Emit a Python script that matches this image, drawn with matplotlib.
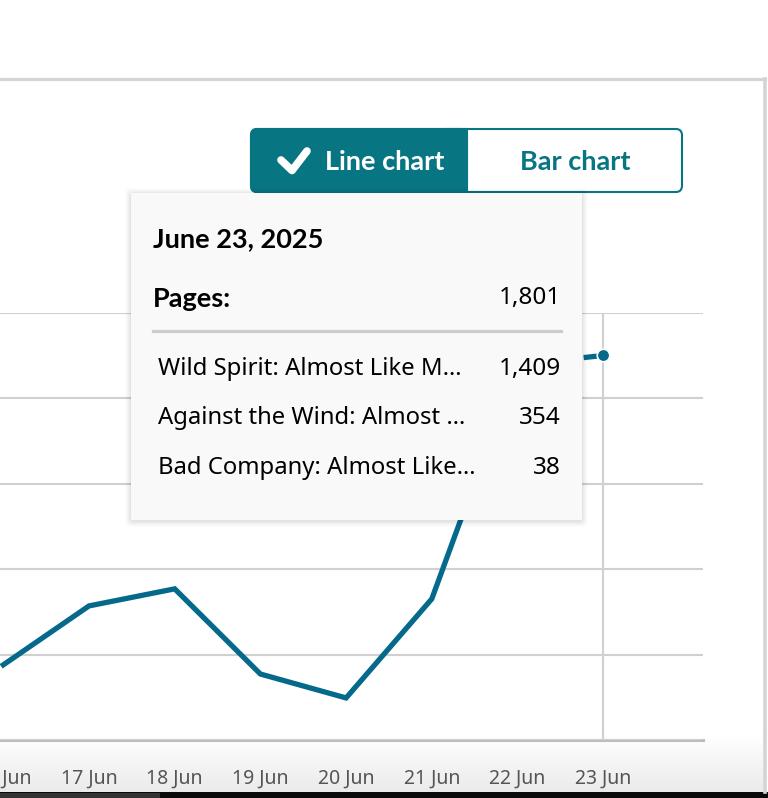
import matplotlib
matplotlib.use("Agg")
import matplotlib.pyplot as plt
import numpy as np
from matplotlib.patches import Rectangle, FancyBboxPatch
from matplotlib.lines import Line2D

# ---- data ----
dates = ["16 Jun", "17 Jun", "18 Jun", "19 Jun", "20 Jun", "21 Jun", "22 Jun", "23 Jun"]
pages = [352, 628, 708, 309, 197, 661, 1758, 1801]
y_ticks = [0, 400, 800, 1200, 1600, 2000]
tooltip_date = "June 23, 2025"
tooltip_total_label = "Pages:"
tooltip_total = "1,801"
book_names = ["Wild Spirit: Almost Like M\u2026", "Against the Wind: Almost \u2026", "Bad Company: Almost Like\u2026"]
book_pages = ["1,409", "354", "38"]
btn_labels = ["Line chart", "Bar chart"]

W, H = 768, 798
DPI = 100
fig = plt.figure(figsize=(W / DPI, H / DPI), dpi=DPI)
fig.patch.set_facecolor("white")

def fx(x):
    return x / W

def fy(y):
    return 1 - y / H

FONT = ["Noto Sans", "DejaVu Sans"]
BFONT = ["Lato", "DejaVu Sans"]
TEAL = "#087582"
LINE = "#05698c"

# background gradient at bottom of panel
gax = fig.add_axes([fx(0), fy(792), fx(763), (792 - 735) / H], zorder=0)
grad = np.linspace(1.0, 0.92, 100).reshape(-1, 1)
gax.imshow(np.dstack([grad, grad, grad]), aspect="auto", extent=[0, 1, 0, 1], origin="upper")
gax.axis("off")

# bottom dark strip
fig.patches.append(Rectangle((0, 0), 1, fy(792), transform=fig.transFigure, fc="#0a0a0a", ec="none", zorder=1))
fig.patches.append(Rectangle((0, 0), fx(160), fy(793), transform=fig.transFigure, fc="#333333", ec="none", zorder=1))

# panel border
fig.lines.append(Line2D([0, fx(765)], [fy(78.5), fy(78.5)], transform=fig.transFigure, color="#d4d4d4", lw=2.3, zorder=2))
fig.lines.append(Line2D([fx(765), fx(765)], [fy(78.5), fy(792)], transform=fig.transFigure, color="#d4d4d4", lw=2.6, zorder=2))

# main chart axes
step = 85.7
x0px = 3.3
left_px, right_px, top_px, bot_px = 0, 703, 313, 740
ax = fig.add_axes([fx(left_px), fy(bot_px), fx(right_px - left_px), (bot_px - top_px) / H], zorder=3)
ax.patch.set_alpha(0)
x = np.arange(len(dates))
ax.set_xlim((left_px - x0px) / step, (right_px - x0px) / step)
ax.set_ylim(y_ticks[0], y_ticks[-1])
ax.set_yticks(y_ticks)
ax.set_xticks(x)
ax.set_xticklabels(dates)
for s in ax.spines.values():
    s.set_visible(False)
ax.grid(axis="y", color="#d0d0d0", lw=1.5, zorder=0)
ax.axhline(0, color="#bdbdbd", lw=2.2, zorder=1, clip_on=False)
ax.tick_params(axis="y", left=False, labelleft=False)
ax.tick_params(axis="x", bottom=False, pad=17, labelsize=14, labelcolor="#555555")
for t in ax.get_xticklabels():
    t.set_family(FONT)

# hover vertical line
ax.axvline(x[-1], ymin=0, ymax=1, color="#d0d0d0", lw=1.5, zorder=1)

ax.plot(x[:-1], pages[:-1], color=LINE, lw=3.8, solid_joinstyle="miter", zorder=4, clip_on=False)
ax.plot(x[-2:], pages[-2:], color=LINE, lw=3.8, linestyle=(0, (2.6, 1.6)), zorder=4)
ax.plot([x[-1]], [pages[-1]], "o", color=LINE, ms=9, mec="white", mew=1.2, zorder=5)

# ---- buttons ----
bx0, bx1, bmid, by0, by1 = 251, 682, 467, 129, 192
outer = FancyBboxPatch((fx(bx0), fy(by1)), fx(bx1 - bx0), (by1 - by0) / H,
                       boxstyle="round,pad=0,rounding_size=0.008", transform=fig.transFigure,
                       fc="white", ec=TEAL, lw=1.5, zorder=6)
fig.patches.append(outer)
lb = FancyBboxPatch((fx(bx0), fy(by1)), fx(bmid - bx0), (by1 - by0) / H,
                    boxstyle="round,pad=0,rounding_size=0.008", transform=fig.transFigure,
                    fc=TEAL, ec=TEAL, lw=1.5, zorder=7)
fig.patches.append(lb)
fig.patches.append(Rectangle((fx(bmid - 20), fy(by1)), fx(20), (by1 - by0) / H, transform=fig.transFigure,
                             fc=TEAL, ec=TEAL, lw=1.5, zorder=7))
fig.lines.append(Line2D([fx(281), fx(292), fx(307)], [fy(160), fy(170.5), fy(151)], transform=fig.transFigure,
                        color="white", lw=5.5, solid_capstyle="round", solid_joinstyle="round", zorder=8))
fig.text(fx(325), fy(162), btn_labels[0], color="white", fontsize=19.5, fontweight="bold",
         ha="left", va="center", family=BFONT, zorder=8)
fig.text(fx(575), fy(162), btn_labels[1], color=TEAL, fontsize=19.5, fontweight="bold",
         ha="center", va="center", family=BFONT, zorder=8)

# ---- tooltip ----
tx0, tx1, ty0, ty1 = 131, 582, 193, 520
for i, a in enumerate([0.010, 0.012, 0.015, 0.018, 0.022, 0.025]):
    g = 6 - i
    fig.patches.append(FancyBboxPatch((fx(tx0 - g), fy(ty1 + g + 1)), fx(tx1 - tx0 + 2 * g), (ty1 - ty0 + 2 * g) / H,
                                      boxstyle="round,pad=0,rounding_size=0.006",
                                      transform=fig.transFigure, fc="black", ec="none", alpha=a, zorder=9))
fig.patches.append(Rectangle((fx(tx0), fy(ty1)), fx(tx1 - tx0), (ty1 - ty0) / H, transform=fig.transFigure,
                             fc="#f9f9f9", ec="none", zorder=10))
fig.text(fx(153), fy(239), tooltip_date, fontsize=19.5, fontweight="bold", ha="left", va="center",
         family=BFONT, color="black", zorder=11)
fig.text(fx(153), fy(299), tooltip_total_label, fontsize=19.5, fontweight="bold", ha="left", va="center",
         family=BFONT, color="black", zorder=11)
fig.text(fx(561), fy(298), tooltip_total, fontsize=17.5, ha="right", va="center",
         family=FONT, color="black", zorder=11)
fig.lines.append(Line2D([fx(153), fx(561)], [fy(331), fy(331)], transform=fig.transFigure,
                        color="#cccccc", lw=2.3, zorder=11))
for i, (n, v) in enumerate(zip(book_names, book_pages)):
    yy = 369 + i * 49.5
    fig.text(fx(158), fy(yy), n, fontsize=17.2, ha="left", va="center", family=FONT, color="black", zorder=11)
    fig.text(fx(561), fy(yy), v, fontsize=17.5, ha="right", va="center", family=FONT, color="black", zorder=11)

fig.savefig("out.png", dpi=DPI)
